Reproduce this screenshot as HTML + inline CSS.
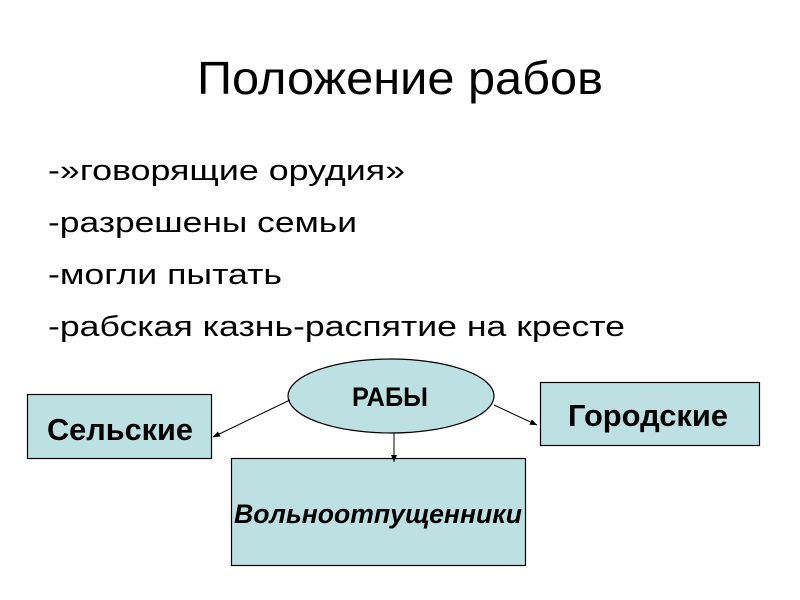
<!DOCTYPE html>
<html><head><meta charset="utf-8"><style>
body{margin:0;width:800px;height:600px;background:#fff;overflow:hidden;position:relative;font-family:"Liberation Sans",sans-serif}
</style></head><body>
<svg width="800" height="600" style="position:absolute;left:0;top:0" font-family="Liberation Sans,sans-serif">
<defs><marker id="a" markerWidth="8" markerHeight="8" refX="7" refY="4" orient="auto"><path d="M0,1 L7,4 L0,7 z" fill="#000"/></marker></defs>
<text x="197" y="94" font-size="46" textLength="406" lengthAdjust="spacingAndGlyphs">Положение рабов</text>
<g font-size="29">
<text x="48" y="180" textLength="357" lengthAdjust="spacingAndGlyphs">-»говорящие орудия»</text>
<text x="48" y="232" textLength="309" lengthAdjust="spacingAndGlyphs">-разрешены семьи</text>
<text x="48" y="284" textLength="234" lengthAdjust="spacingAndGlyphs">-могли пытать</text>
<text x="48" y="336" textLength="577" lengthAdjust="spacingAndGlyphs">-рабская казнь-распятие на кресте</text>
</g>
<g fill="#bde0e3" stroke="#000" stroke-width="1.2">
<rect x="27.5" y="394.5" width="184" height="64"/>
<rect x="540.5" y="382.5" width="219" height="63"/>
<rect x="231.5" y="458.5" width="294" height="107"/>
<ellipse cx="391" cy="396" rx="103" ry="37"/>
</g>
<g stroke="#000" stroke-width="1" marker-end="url(#a)">
<line x1="290" y1="400" x2="213" y2="437"/>
<line x1="494" y1="405" x2="537" y2="425"/>
<line x1="394" y1="433" x2="394" y2="462"/>
</g>
<g font-weight="bold" fill="#000">
<text x="352" y="406" font-size="27" textLength="76" lengthAdjust="spacingAndGlyphs">РАБЫ</text>
<text x="47" y="440" font-size="31" textLength="146" lengthAdjust="spacingAndGlyphs">Сельские</text>
<text x="568" y="426" font-size="31" textLength="160" lengthAdjust="spacingAndGlyphs">Городские</text>
<text x="234" y="523" font-size="27" font-style="italic" textLength="288" lengthAdjust="spacingAndGlyphs">Вольноотпущенники</text>
</g>
</svg>
</body></html>
